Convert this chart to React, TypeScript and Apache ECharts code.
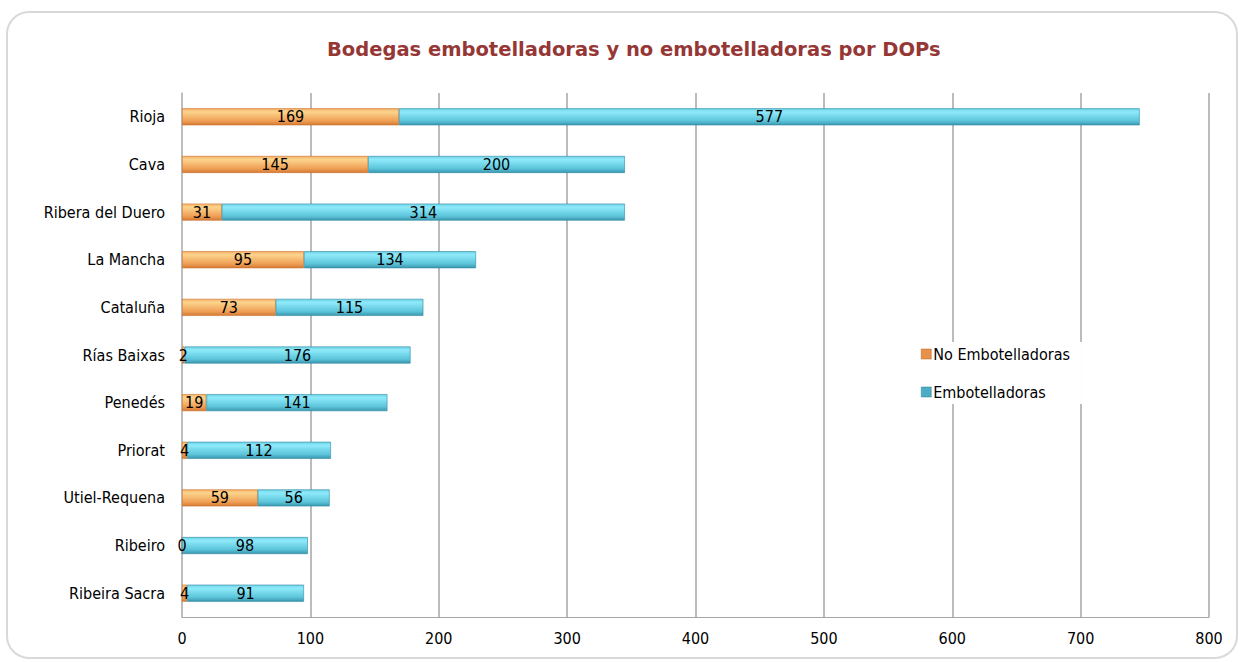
import React, { useEffect, useRef } from "react";
import * as echarts from "echarts";

const categories = [
  "Rioja",
  "Cava",
  "Ribera del Duero",
  "La Mancha",
  "Cataluña",
  "Rías Baixas",
  "Penedés",
  "Priorat",
  "Utiel-Requena",
  "Ribeiro",
  "Ribeira Sacra",
];
const noEmbotelladoras = [169, 145, 31, 95, 73, 2, 19, 4, 59, 0, 4];
const embotelladoras = [577, 200, 314, 134, 115, 176, 141, 112, 56, 98, 91];
const xTicks = [0, 100, 200, 300, 400, 500, 600, 700, 800];

const FONT = "'DejaVu Sans Condensed', 'DejaVu Sans', sans-serif";
const TITLE_FONT = "'DejaVu Sans', sans-serif";

export default function App() {
  const ref = useRef<HTMLDivElement>(null);
  useEffect(() => {
    if (!ref.current) return;
    const chart = echarts.init(ref.current, undefined, { renderer: "svg" });
    const orangeGrad = new echarts.graphic.LinearGradient(0, 0, 0, 1, [
      { offset: 0, color: "#f6b26b" },
      { offset: 0.2, color: "#fcd48c" },
      { offset: 0.75, color: "#ef9f55" },
      { offset: 1, color: "#d47a34" },
    ]);
    const blueGrad = new echarts.graphic.LinearGradient(0, 0, 0, 1, [
      { offset: 0, color: "#6fd2e6" },
      { offset: 0.2, color: "#8eeafa" },
      { offset: 0.75, color: "#5cc4da" },
      { offset: 1, color: "#3a96ad" },
    ]);
    chart.setOption({
      animation: false,
      backgroundColor: "#fff",
      textStyle: { fontFamily: FONT },
      title: {
        text: "Bodegas embotelladoras y no embotelladoras por DOPs",
        left: 322,
        top: 34,
        textStyle: { color: "#953735", fontSize: 19.5, fontWeight: "bold", fontFamily: TITLE_FONT },
      },
      graphic: [
        {
          type: "rect",
          shape: { x: 7, y: 12, width: 1230, height: 646, r: 22 },
          style: { fill: "none", stroke: "#d9d9d9", lineWidth: 2 },
          z: 0,
        },
      ],
      legend: {
        orient: "vertical",
        left: 915,
        top: 342,
        icon: "rect",
        itemWidth: 10,
        itemHeight: 10,
        itemGap: 22,
        padding: [4, 12, 4, 6],
        backgroundColor: "#fff",
        textStyle: { color: "#000", fontSize: 16, fontFamily: FONT, padding: [0, 0, 0, -3] },
        data: [
          { name: "No Embotelladoras", itemStyle: { color: "#e8914a", borderColor: "#b5651d", borderWidth: 0.5 } },
          { name: "Embotelladoras", itemStyle: { color: "#4bacc6", borderColor: "#2f7f95", borderWidth: 0.5 } },
        ],
      },
      grid: { left: 182, right: 35, top: 93, bottom: 45 },
      xAxis: {
        type: "value",
        min: 0,
        max: 800,
        interval: 100,
        axisLine: { show: true, lineStyle: { color: "#a6a6a6" } },
        axisTick: { show: false },
        splitLine: { show: true, lineStyle: { color: "#a6a6a6", width: 1.5 } },
        axisLabel: {
          color: "#000",
          fontSize: 16,
          fontFamily: FONT,
          margin: 13,
          formatter: (v: number) => (xTicks.includes(v) ? String(v) : ""),
        },
      },
      yAxis: {
        type: "category",
        inverse: true,
        data: categories,
        axisLine: { show: true, lineStyle: { color: "#bfbfbf", width: 1.5 } },
        axisTick: { show: false },
        axisLabel: { color: "#000", fontSize: 16, fontFamily: FONT, margin: 17 },
      },
      series: [
        {
          name: "No Embotelladoras",
          type: "bar",
          stack: "total",
          barWidth: 17,
          data: noEmbotelladoras,
          itemStyle: { color: orangeGrad, borderColor: "#c96f28", borderWidth: 0.6 },
          label: { show: true, position: "inside", color: "#000", fontSize: 16, fontFamily: FONT },
        },
        {
          name: "Embotelladoras",
          type: "bar",
          stack: "total",
          barWidth: 17,
          data: embotelladoras,
          itemStyle: { color: blueGrad, borderColor: "#2f8aa2", borderWidth: 0.6 },
          label: { show: true, position: "inside", color: "#000", fontSize: 16, fontFamily: FONT },
        },
      ],
    });
    return () => chart.dispose();
  }, []);
  return (
    <div
      ref={ref}
      style={{ position: "fixed", left: 0, top: 0, width: 1244, height: 662 }}
    />
  );
}
